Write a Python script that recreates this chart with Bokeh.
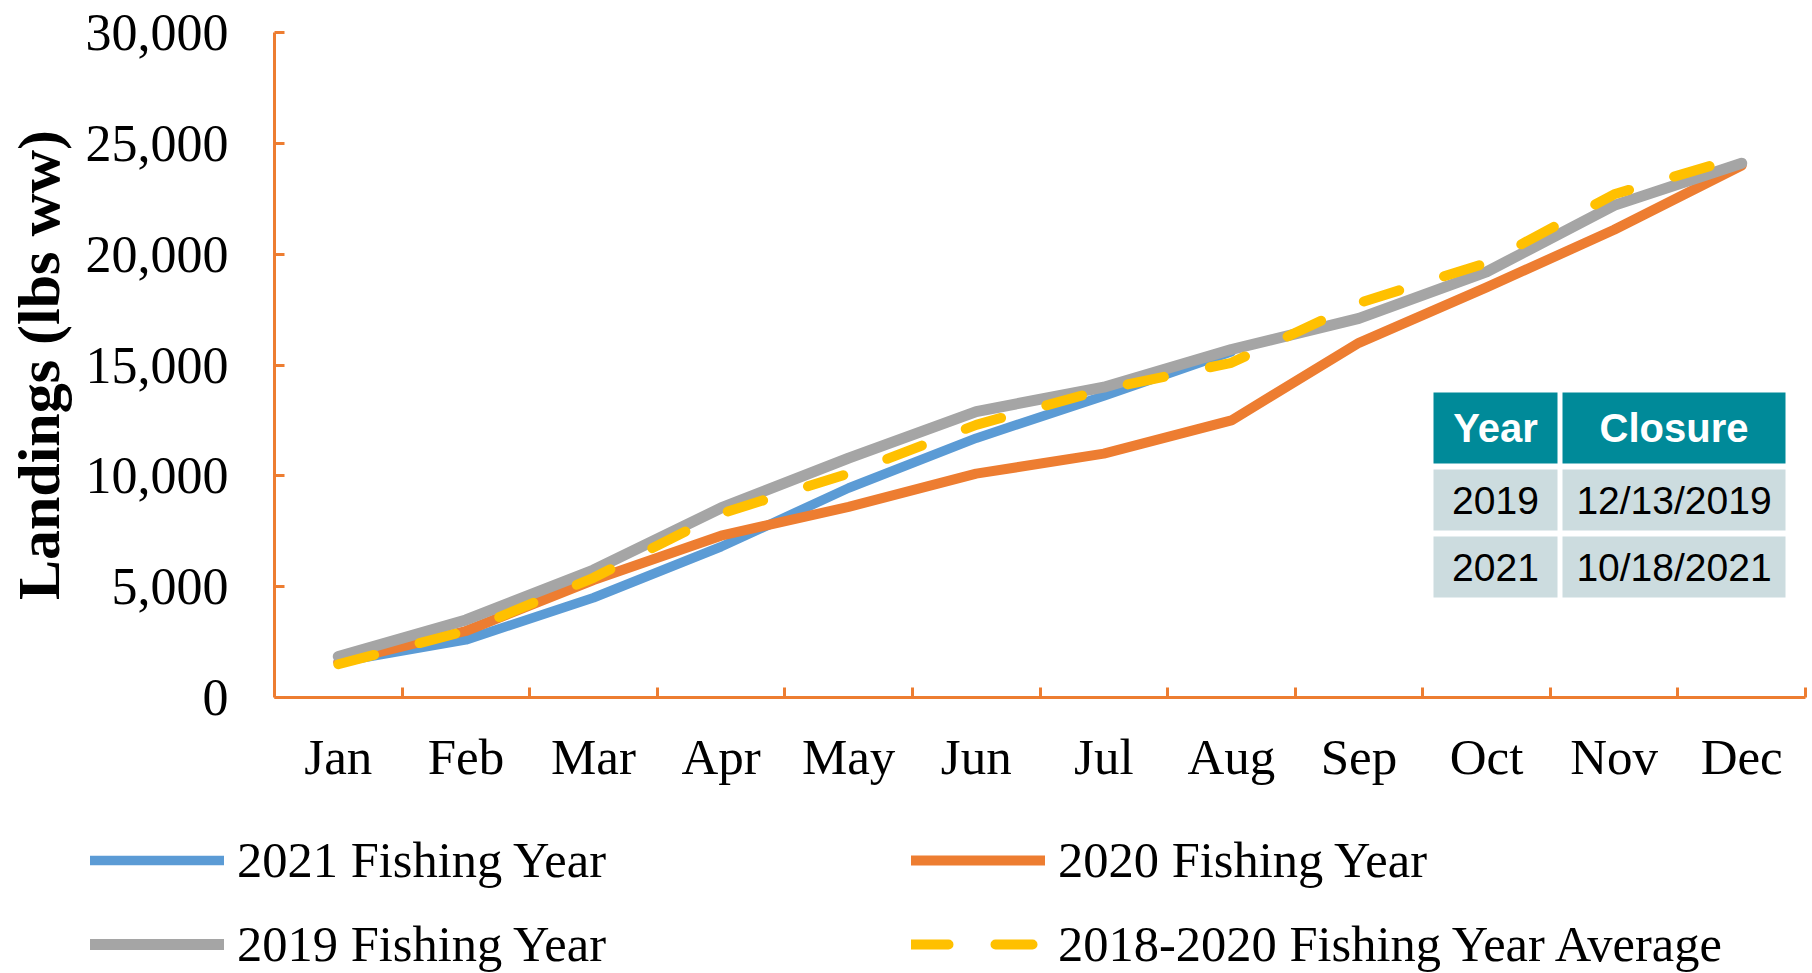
import numpy as np
from bokeh.plotting import figure
from bokeh.models import (Range1d, FixedTicker, NumeralTickFormatter, Legend, LegendItem,
                          BoxAnnotation, Label)
from bokeh.embed import file_html
from bokeh.resources import INLINE

# ---------------- data ----------------
months = ["Jan", "Feb", "Mar", "Apr", "May", "Jun", "Jul", "Aug", "Sep", "Oct", "Nov", "Dec"]
fy2021 = [1600, 2600, 4500, 6800, 9450, 11700, 13600, 15600]
fy2020 = [1600, 3000, 5300, 7300, 8600, 10100, 11000, 12500, 16000, 18500, 21100, 24000]
fy2019 = [1850, 3500, 5750, 8550, 10800, 12900, 14000, 15700, 17100, 19200, 22200, 24100]
avg_2018_2020 = [1500, 3000, 5400, 8300, 10100, 12300, 13900, 15100, 17800, 19600, 22700, 24400]
y_ticks = [0, 5000, 10000, 15000, 20000, 25000, 30000]

table_columns = ["Year", "Closure"]
table_years = ["2019", "2021"]
table_closures = ["12/13/2019", "10/18/2021"]

# ---------------- layout (page pixels) ----------------
W, H = 1812, 973
PL, PR, PT, PB = 274, 1805, 32, 697      # plot area edges
YMAX = 30000
n = len(months)
px_x = (PR - PL) / n
px_y = (PB - PT) / YMAX

AX = "#ED7D31"
SERIF = "Liberation Serif"
SANS = "Liberation Sans"

centers = np.arange(n) + 0.5

p = figure(width=W, height=H, output_backend="svg", toolbar_location=None,
           x_range=Range1d(-PL / px_x, n + (W - PR) / px_x),
           y_range=Range1d(-(H - PB) / px_y, YMAX + PT / px_y),
           min_border_left=0, min_border_right=0, min_border_top=0, min_border_bottom=0)
p.outline_line_color = None
p.grid.visible = False
p.background_fill_color = "white"
p.border_fill_color = "white"

xa = p.xaxis[0]
xa.fixed_location = 0
xa.bounds = (0, n)
xa.ticker = FixedTicker(ticks=list(centers), minor_ticks=list(np.arange(1, n + 1)))
xa.major_label_overrides = {float(c): m for c, m in zip(centers, months)}
xa.major_tick_in = 0
xa.major_tick_out = 0
xa.minor_tick_in = 10
xa.minor_tick_out = 0
xa.minor_tick_line_color = AX
xa.minor_tick_line_width = 3
xa.axis_line_color = AX
xa.axis_line_width = 3
xa.major_label_text_font = SERIF
xa.major_label_text_font_size = "51px"
xa.major_label_text_color = "black"
xa.major_label_standoff = 31

ya = p.yaxis[0]
ya.fixed_location = 0
ya.bounds = (0, YMAX)
ya.ticker = FixedTicker(ticks=y_ticks, minor_ticks=[])
ya.formatter = NumeralTickFormatter(format="0,0")
ya.major_tick_in = 10
ya.major_tick_out = 0
ya.minor_tick_in = 0
ya.minor_tick_out = 0
ya.major_tick_line_color = AX
ya.major_tick_line_width = 3
ya.axis_line_color = AX
ya.axis_line_width = 3
ya.major_label_text_font = SERIF
ya.major_label_text_font_size = "52px"
ya.major_label_text_color = "black"
ya.major_label_standoff = 46
ya.axis_label = "Landings (lbs ww)"
ya.axis_label_text_font = SERIF
ya.axis_label_text_font_size = "60px"
ya.axis_label_text_font_style = "bold"
ya.axis_label_text_color = "black"
ya.axis_label_standoff = 11

r21 = p.line(centers[:len(fy2021)], fy2021, line_color="#5B9BD5", line_width=9.5,
             line_cap="round", line_join="round")
r20 = p.line(centers[:len(fy2020)], fy2020, line_color="#ED7D31", line_width=10,
             line_cap="round", line_join="round")
r19 = p.line(centers[:len(fy2019)], fy2019, line_color="#A5A5A5", line_width=11,
             line_cap="round", line_join="round")
ravg = p.line(centers[:len(avg_2018_2020)], avg_2018_2020, line_color="#FFC000", line_width=10,
              line_cap="round", line_join="round", line_dash="37 47")

legend = Legend(items=[LegendItem(label="2021 Fishing Year", renderers=[r21]),
                       LegendItem(label="2019 Fishing Year", renderers=[r19]),
                       LegendItem(label="2020 Fishing Year", renderers=[r20]),
                       LegendItem(label="2018-2020 Fishing Year Average", renderers=[ravg])],
                location=(90, 0), orientation="vertical", ncols=2,
                glyph_width=134, glyph_height=50, label_height=50, label_width=648,
                label_standoff=13, spacing=26, padding=0, margin=0,
                label_text_font=SERIF, label_text_font_size="50.5px", label_text_color="black",
                border_line_color=None, background_fill_alpha=0)
p.add_layout(legend, "center")

# ---------------- closure table (screen units; frame = whole canvas) ----------------
col_edges = [(1433, 1557), (1562, 1785)]                 # page x
row_edges = [(392, 463), (469, 530), (536, 597)]         # page y (top, bottom)
TEAL = "#008A99"
ROWBG = "#CCDCDF"
rows = [table_columns] + [[y, c] for y, c in zip(table_years, table_closures)]
for ri, (ptop, pbot) in enumerate(row_edges):
    for ci, (lft, rgt) in enumerate(col_edges):
        p.add_layout(BoxAnnotation(left=lft, right=rgt, bottom=H - pbot, top=H - ptop,
                                   left_units="screen", right_units="screen",
                                   bottom_units="screen", top_units="screen",
                                   fill_color=TEAL if ri == 0 else ROWBG, fill_alpha=1,
                                   line_color=None))
for ri, (ptop, pbot) in enumerate(row_edges):
    for ci, (lft, rgt) in enumerate(col_edges):
        p.add_layout(Label(x=(lft + rgt) / 2, y=H - (ptop + pbot) / 2,
                           x_units="screen", y_units="screen",
                           text=rows[ri][ci], text_align="center", text_baseline="middle",
                           text_font=SANS, text_font_size="40px" if ri == 0 else "39px",
                           text_font_style="bold" if ri == 0 else "normal",
                           text_color="white" if ri == 0 else "black", level="overlay"))

open("out.html", "w").write(file_html(p, INLINE))
